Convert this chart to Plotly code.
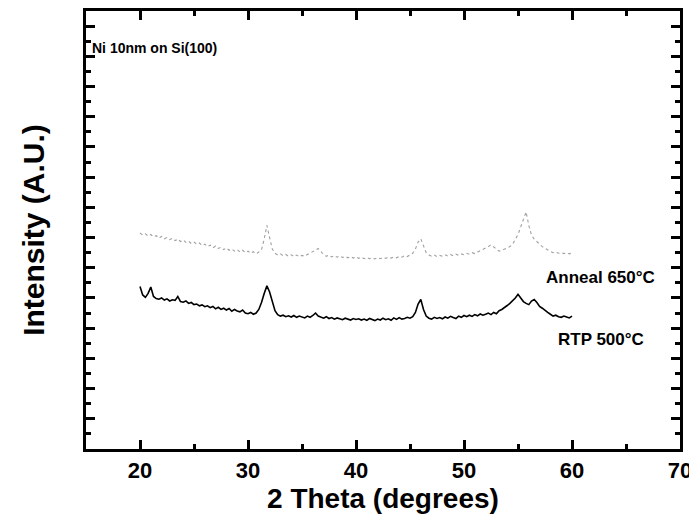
import numpy as np
import plotly.graph_objects as go

# 2-theta sampling grid (degrees)
two_theta = [round(20 + 0.25 * i, 2) for i in range(161)]

# RTP 500 C (black solid)
rtp_500 = [
    5.38, 5.10, 5.02, 5.15, 5.36, 5.05, 4.98, 4.96, 5.00, 4.93,
    4.97, 4.90, 4.94, 4.92, 5.05, 4.88, 4.86, 4.90, 4.82, 4.85,
    4.78, 4.80, 4.74, 4.77, 4.71, 4.74, 4.68, 4.72, 4.64, 4.69,
    4.62, 4.66, 4.60, 4.65, 4.56, 4.62, 4.57, 4.54, 4.60, 4.50,
    4.48, 4.52, 4.46, 4.50, 4.62, 4.85, 5.15, 5.40, 5.20, 4.85,
    4.58, 4.45, 4.40, 4.43, 4.38, 4.41, 4.37, 4.42, 4.36, 4.40,
    4.38, 4.34, 4.40, 4.36, 4.42, 4.50, 4.40, 4.36, 4.33, 4.38,
    4.32, 4.35, 4.30, 4.34, 4.31, 4.28, 4.33, 4.30, 4.27, 4.32,
    4.29, 4.31, 4.27, 4.30, 4.26, 4.32, 4.28, 4.25, 4.30, 4.27,
    4.33, 4.28, 4.31, 4.26, 4.34, 4.29, 4.35, 4.30, 4.32, 4.36,
    4.33, 4.38, 4.52, 4.80, 4.95, 4.62, 4.40, 4.33, 4.30, 4.36,
    4.32, 4.35, 4.31, 4.37, 4.33, 4.39, 4.35, 4.32, 4.40, 4.36,
    4.42, 4.38, 4.43, 4.39, 4.45, 4.41, 4.47, 4.43, 4.46, 4.50,
    4.45, 4.52, 4.48, 4.58, 4.62, 4.70, 4.75, 4.82, 4.90, 5.00,
    5.12, 4.98, 4.88, 4.82, 4.78, 4.90, 4.95, 4.85, 4.72, 4.66,
    4.58, 4.52, 4.46, 4.40, 4.43, 4.38, 4.36, 4.40, 4.37, 4.34,
    4.40,
]

# Anneal 650 C (grey dotted)
anneal_650 = [
    7.15, 7.08, 7.12, 7.05, 7.10, 7.02, 7.06, 6.98, 7.04, 6.96,
    7.00, 6.93, 6.98, 6.90, 6.95, 6.87, 6.92, 6.84, 6.88, 6.80,
    6.85, 6.78, 6.82, 6.74, 6.78, 6.70, 6.75, 6.66, 6.72, 6.64,
    6.68, 6.60, 6.66, 6.58, 6.62, 6.55, 6.60, 6.52, 6.58, 6.50,
    6.55, 6.48, 6.53, 6.46, 6.52, 6.60, 6.95, 7.40, 7.00, 6.62,
    6.48, 6.42, 6.46, 6.40, 6.44, 6.38, 6.43, 6.37, 6.42, 6.36,
    6.41, 6.38, 6.44, 6.48, 6.52, 6.58, 6.64, 6.52, 6.44, 6.38,
    6.42, 6.36, 6.40, 6.35, 6.39, 6.34, 6.38, 6.33, 6.37, 6.32,
    6.36, 6.31, 6.35, 6.30, 6.34, 6.30, 6.33, 6.29, 6.33, 6.30,
    6.34, 6.31, 6.35, 6.32, 6.36, 6.33, 6.38, 6.35, 6.40, 6.37,
    6.42, 6.48, 6.62, 6.85, 6.96, 6.70, 6.50, 6.42, 6.38, 6.42,
    6.37, 6.41, 6.38, 6.43, 6.39, 6.44, 6.40, 6.45, 6.41, 6.46,
    6.43, 6.48, 6.45, 6.50, 6.47, 6.52, 6.56, 6.60, 6.64, 6.70,
    6.76, 6.68, 6.60, 6.55, 6.58, 6.62, 6.66, 6.70, 6.78, 6.92,
    7.10, 7.35, 7.60, 7.85, 7.40, 7.08, 6.95, 6.85, 6.78, 6.70,
    6.64, 6.58, 6.54, 6.50, 6.52, 6.48, 6.50, 6.47, 6.49, 6.46,
    6.50,
]

x_tick_vals = [20, 30, 40, 50, 60, 70]
x_tick_text = ["20", "30", "40", "50", "60", "70"]

FONT = "Liberation Sans, Arial, sans-serif"

fig = go.Figure()
fig.add_trace(go.Scatter(
    x=two_theta, y=anneal_650, mode="lines", name="Anneal 650°C",
    line=dict(color="#a0a0a0", width=1.1, dash="dot"),
))
fig.add_trace(go.Scatter(
    x=two_theta, y=rtp_500, mode="lines", name="RTP 500°C",
    line=dict(color="black", width=1.6),
))

fig.add_annotation(x=21.36, y=13.26, text="Ni 10nm on Si(100)", showarrow=False,
                   xanchor="center", yanchor="middle",
                   font=dict(family=FONT, size=14, color="black", weight="bold"))
fig.add_annotation(x=62.63, y=5.69, text="Anneal 650°C", showarrow=False,
                   xanchor="center", yanchor="middle",
                   font=dict(family=FONT, size=17, color="black", weight="bold"))
fig.add_annotation(x=62.7, y=3.62, text="RTP 500°C", showarrow=False,
                   xanchor="center", yanchor="middle",
                   font=dict(family=FONT, size=17, color="black", weight="bold"))

# page body adds an 8px offset; the figure is sized to fit the 697x526 window
fig.update_layout(
    width=689, height=518,
    margin=dict(l=78, r=17, t=3, b=77),
    paper_bgcolor="white", plot_bgcolor="white",
    showlegend=False,
    font=dict(family=FONT, color="black"),
)
fig.update_xaxes(
    automargin=False,
    range=[15, 70], tickvals=x_tick_vals, ticktext=x_tick_text,
    ticks="inside", ticklen=9, tickwidth=2.5, tickcolor="black",
    minor=dict(ticks="inside", tickvals=[25, 35, 45, 55, 65], ticklen=5, tickwidth=2.5, tickcolor="black"),
    showline=True, linewidth=3, linecolor="black", mirror="ticks",
    showgrid=False, zeroline=False,
    tickfont=dict(family=FONT, size=22, color="black", weight="bold"),
    title=dict(text="2 Theta (degrees)", standoff=6,
               font=dict(family=FONT, size=28, color="black", weight="bold")),
)
fig.update_yaxes(
    automargin=False,
    range=[0, 14.5], dtick=1, tick0=0, showticklabels=False,
    ticks="inside", ticklen=9, tickwidth=2.5, tickcolor="black",
    minor=dict(ticks="inside", dtick=0.5, tick0=0.5, ticklen=5, tickwidth=2.5, tickcolor="black"),
    showline=True, linewidth=3, linecolor="black", mirror="ticks",
    showgrid=False, zeroline=False,
    title=dict(text="Intensity (A.U.)", standoff=30,
               font=dict(family=FONT, size=30, color="black", weight="bold")),
)

fig.write_html("out.html")
